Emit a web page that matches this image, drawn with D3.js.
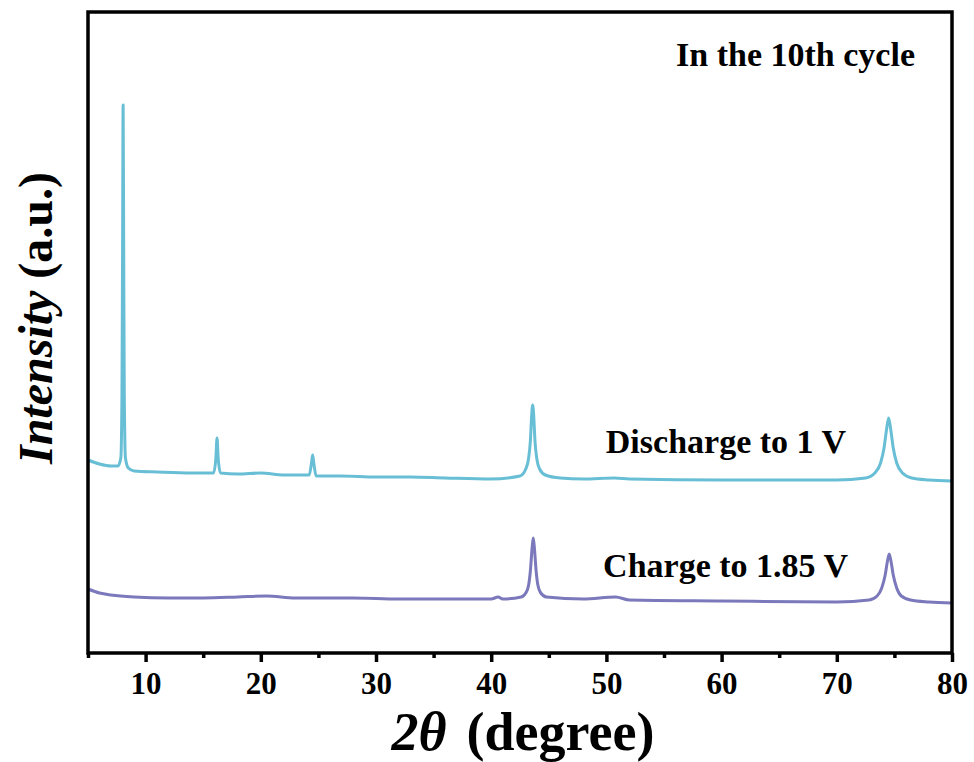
<!DOCTYPE html>
<html>
<head>
<meta charset="utf-8">
<script src="https://cdn.jsdelivr.net/npm/d3@7"></script>
<style>
  body { margin: 0; background: #fff; }
  svg text { font-family: "Liberation Serif", "Times New Roman", serif; font-weight: bold; }
</style>
</head>
<body>
<svg id="chart" width="974" height="762"></svg>
<script>
// 2theta (degree) vs intensity (a.u.)
const discharge = [
    [5.0, 193], [6.0, 189], [7.0, 187], [7.6, 187], [7.85, 195], [7.95, 260],
    [8.0, 400], [8.05, 548], [8.1, 400], [8.15, 260], [8.25, 195], [8.5, 185],
    [9.0, 182], [11, 181], [14, 180], [15.9, 180], [16.1, 195], [16.2, 215],
    [16.3, 195], [16.5, 180], [18, 179], [20, 180], [22, 178], [24.2, 178],
    [24.4, 190], [24.5, 198], [24.6, 190], [24.8, 177], [27, 177], [30, 176],
    [33, 176], [36, 175], [40, 174], [42.5, 177], [43.0, 184], [43.25, 195],
    [43.4, 212], [43.5, 235], [43.6, 248], [43.7, 235], [43.8, 212], [43.95, 195],
    [44.2, 184], [44.7, 178], [46, 175], [48, 174], [50.7, 175], [52, 174],
    [60, 173], [70, 173], [72.5, 175], [73.3, 180], [73.8, 190], [74.1, 205],
    [74.3, 222], [74.5, 235], [74.7, 222], [74.9, 205], [75.2, 190], [75.7, 180],
    [76.5, 175], [78, 173], [80, 172]
];
const charge = [
    [5.0, 64], [6, 60], [7, 58], [9, 56], [12, 55], [15, 55], [18, 56],
    [20.5, 57], [23, 55], [28, 55], [32, 54], [36, 54], [40, 54], [40.6, 56],
    [41, 54], [42.6, 56], [43.0, 60], [43.25, 68], [43.4, 82], [43.55, 105],
    [43.65, 115], [43.75, 105], [43.9, 82], [44.05, 68], [44.3, 60], [44.8, 56],
    [48, 54], [50.8, 56], [52, 53], [60, 52], [70, 51], [72.8, 53], [73.5, 57],
    [73.9, 65], [74.2, 78], [74.4, 92], [74.55, 99], [74.7, 92], [74.9, 78],
    [75.2, 65], [75.6, 57], [76.4, 53], [78, 51], [80, 50]
];
const majorTicks = [10, 20, 30, 40, 50, 60, 70, 80];
const minorTicks = [5, 15, 25, 35, 45, 55, 65, 75];
const seriesLabels = ["Discharge to 1 V", "Charge to 1.85 V"];
const title = "In the 10th cycle";

const margin = {top: 12, right: 22, bottom: 109, left: 88};
const svg = d3.select("#chart");
const width = 974 - margin.left - margin.right;
const height = 762 - margin.top - margin.bottom;

const x = d3.scaleLinear().domain([5, 80]).range([0, width]);
const y = d3.scaleLinear().domain([0, 641]).range([height, 0]);

const g = svg.append("g").attr("transform", `translate(${margin.left},${margin.top})`);

let line = d3.line().x(d => x(d[0])).y(d => y(d[1])).curve(d3.curveMonotoneX);

g.append("path").datum(discharge)
    .attr("d", line)
    .attr("fill", "none")
    .attr("stroke", "#68bfd5")
    .attr("stroke-width", 3)
    .attr("stroke-linejoin", "round");

g.append("path").datum(charge)
    .attr("d", line)
    .attr("fill", "none")
    .attr("stroke", "#7b79bb")
    .attr("stroke-width", 3)
    .attr("stroke-linejoin", "round");

// frame
g.append("rect")
    .attr("width", width).attr("height", height)
    .attr("fill", "none").attr("stroke", "black").attr("stroke-width", 3.5);

// x axis
let xAxis = g.append("g").attr("transform", `translate(0,${height})`)
    .call(d3.axisBottom(x).tickValues(majorTicks).tickSize(9).tickPadding(10));
xAxis.select(".domain").remove();
xAxis.selectAll(".tick line").attr("stroke-width", 3.5);
xAxis.selectAll(".tick text").attr("font-size", 31).attr("fill", "black")
    .attr("font-family", "Liberation Serif");

let xMinor = g.append("g").attr("transform", `translate(0,${height})`)
    .call(d3.axisBottom(x).tickValues(minorTicks).tickSize(5).tickFormat(""));
xMinor.select(".domain").remove();
xMinor.selectAll(".tick line").attr("stroke-width", 3.5);

// axis titles
let xt = svg.append("text")
    .attr("x", 523).attr("y", 750)
    .attr("text-anchor", "middle")
    .attr("font-size", 54);
xt.append("tspan").attr("font-style", "italic").text("2θ");
xt.append("tspan").attr("dx", 20).text("(degree)");

let yt = svg.append("text")
    .attr("transform", "translate(52,318) rotate(-90)")
    .attr("text-anchor", "middle")
    .attr("font-size", 48);
yt.append("tspan").attr("font-style", "italic").text("Intensity");
yt.append("tspan").text(" (a.u.)");

// annotations
g.append("text").attr("x", 915 - margin.left).attr("y", 66 - margin.top)
    .attr("text-anchor", "end").attr("font-size", 34).text(title);
g.append("text").attr("x", 846 - margin.left).attr("y", 453 - margin.top)
    .attr("text-anchor", "end").attr("font-size", 34).text(seriesLabels[0]);
g.append("text").attr("x", 848 - margin.left).attr("y", 577 - margin.top)
    .attr("text-anchor", "end").attr("font-size", 34).text(seriesLabels[1]);
</script>
</body>
</html>
